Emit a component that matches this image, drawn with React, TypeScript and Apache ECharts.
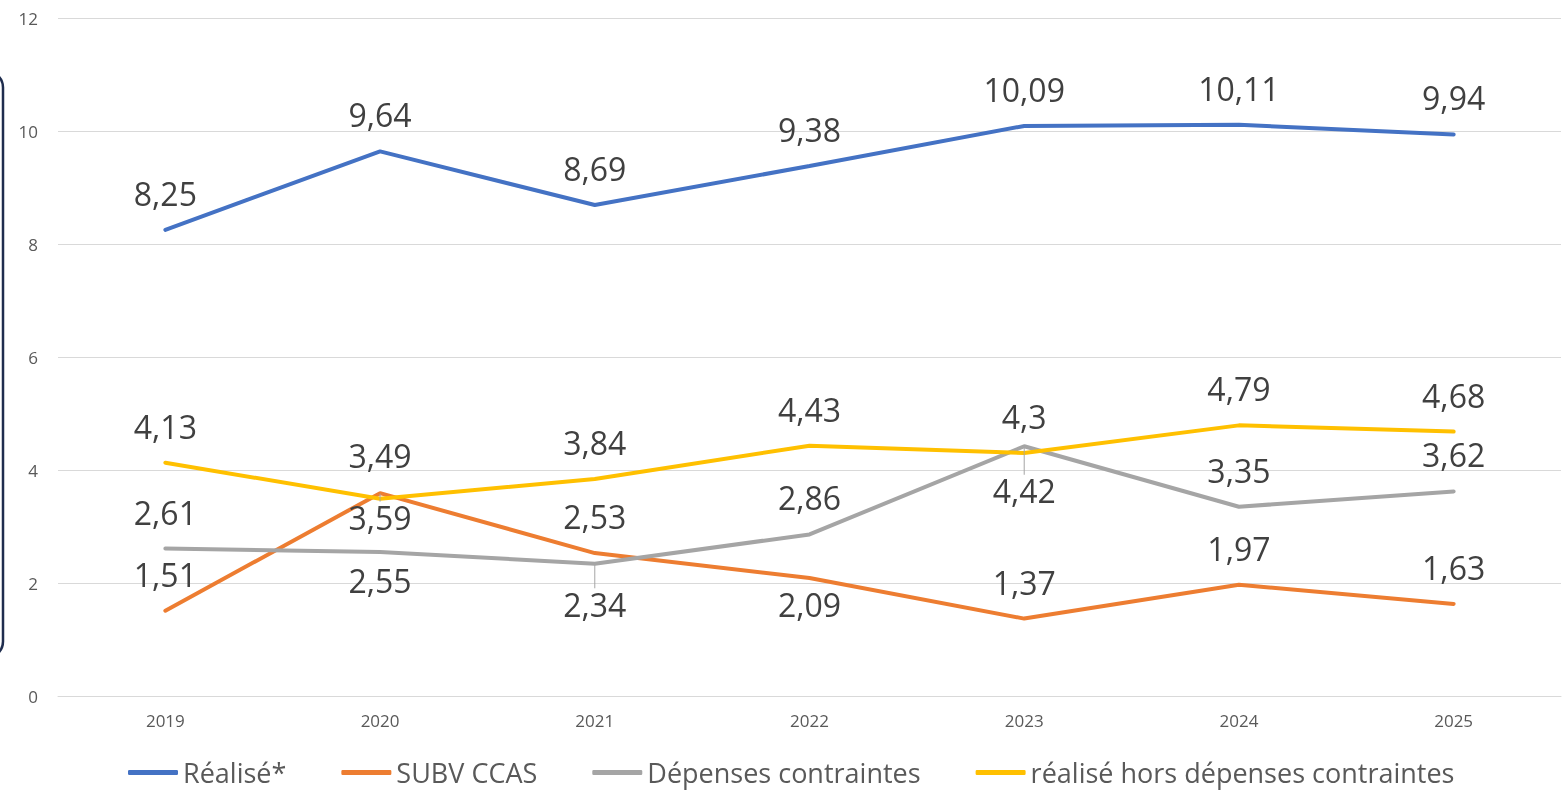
import React, { useEffect, useRef } from "react";
import * as echarts from "echarts";

const years = ["2019", "2020", "2021", "2022", "2023", "2024", "2025"];
const realise = [8.25, 9.64, 8.69, 9.38, 10.09, 10.11, 9.94];
const subvCcas = [1.51, 3.59, 2.53, 2.09, 1.37, 1.97, 1.63];
const depensesContraintes = [2.61, 2.55, 2.34, 2.86, 4.42, 3.35, 3.62];
const realiseHors = [4.13, 3.49, 3.84, 4.43, 4.3, 4.79, 4.68];
const seriesNames = ["Réalisé*", "SUBV CCAS", "Dépenses contraintes", "réalisé hors dépenses contraintes"];
const colors = ["#4472C4", "#ED7D31", "#A5A5A5", "#FFC000"];

// label placement overrides (index -> [position, distance, leader])
const subvLabels: Record<number, [string, number, boolean]> = { 1: ["bottom", 8, true], 3: ["bottom", 10, false] };
const depLabels: Record<number, [string, number, boolean]> = { 1: ["bottom", 12, false], 2: ["bottom", 24, true], 4: ["bottom", 28, true] };
const horsLabels: Record<number, [string, number, boolean]> = { 1: ["top", 27, false] };

const FONT = "'Open Sans', sans-serif";

function buildData(values: number[], overrides: Record<number, [string, number, boolean]>) {
  return values.map((v, i) => {
    const o = overrides[i];
    if (!o) return v;
    return {
      value: v,
      label: { position: o[0], distance: o[1] },
      labelLine: { show: o[2], lineStyle: { color: "#A5A5A5", width: 1 } },
    };
  });
}

export default function App() {
  const ref = useRef<HTMLDivElement>(null);
  useEffect(() => {
    if (!ref.current) return;
    const chart = echarts.init(ref.current, undefined, { renderer: "svg" });
    const mk = (name: string, data: any[], color: string) => ({
      name,
      type: "line",
      data,
      symbol: "circle",
      symbolSize: 1,
      showSymbol: true,
      itemStyle: { color },
      lineStyle: { color, width: 4, cap: "round" },
      label: {
        show: true,
        position: "top",
        distance: 20,
        fontSize: 32,
        fontFamily: FONT,
        color: "#404040",
        formatter: (p: any) => String(p.value).replace(".", ","),
      },
      labelLayout: { hideOverlap: false },
      labelLine: { show: false },
      emphasis: { disabled: true },
    });
    chart.setOption({
      animation: false,
      textStyle: { fontFamily: FONT },
      grid: { left: 58, right: 1, top: 18, bottom: 96, containLabel: false },
      xAxis: {
        type: "category",
        data: years,
        boundaryGap: true,
        axisLine: { show: true, lineStyle: { color: "#D9D9D9" } },
        axisTick: { show: false },
        axisLabel: { color: "#595959", fontSize: 17, margin: 16, fontFamily: FONT },
      },
      yAxis: {
        type: "value",
        min: 0,
        max: 12,
        interval: 2,
        axisLine: { show: false },
        axisTick: { show: false },
        axisLabel: { color: "#595959", fontSize: 17, margin: 20, fontFamily: FONT },
        splitLine: { lineStyle: { color: "#D9D9D9", width: 1 } },
      },
      legend: {
        data: seriesNames,
        left: 123,
        top: 754,
        icon: "roundRect",
        itemWidth: 50,
        itemHeight: 5,
        itemGap: 55,
        textStyle: { fontSize: 27, color: "#595959", fontFamily: FONT },
      },
      graphic: [
        {
          type: "rect",
          shape: { x: -30, y: 71, width: 33, height: 587, r: 18 },
          style: { fill: "none", stroke: "#1F2D4E", lineWidth: 2.5 },
        },
      ],
      series: [
        mk(seriesNames[0], realise, colors[0]),
        mk(seriesNames[1], buildData(subvCcas, subvLabels), colors[1]),
        mk(seriesNames[2], buildData(depensesContraintes, depLabels), colors[2]),
        mk(seriesNames[3], buildData(realiseHors, horsLabels), colors[3]),
      ],
    });
    return () => chart.dispose();
  }, []);
  return <div ref={ref} style={{ position: "fixed", left: 0, top: 0, width: 1562, height: 792 }} />;
}
